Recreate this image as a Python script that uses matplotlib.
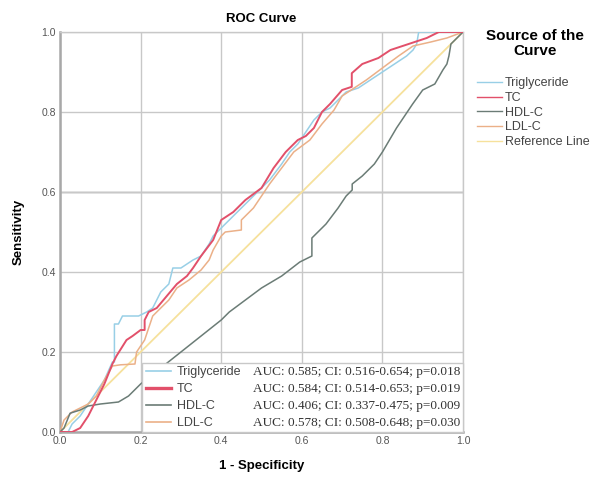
import matplotlib
matplotlib.use("Agg")
import matplotlib.pyplot as plt
from matplotlib.lines import Line2D

plt.rcParams['font.family'] = ['Liberation Sans', 'DejaVu Sans']

# ROC curves (1 - specificity, sensitivity)
tg_x = [0, 0.02, 0.03, 0.05, 0.07, 0.09, 0.11, 0.13, 0.135, 0.135, 0.145, 0.155, 0.195, 0.215, 0.23,
        0.25, 0.27, 0.28, 0.30, 0.33, 0.35, 0.37, 0.38, 0.40, 0.42, 0.44, 0.47, 0.49, 0.52, 0.55, 0.57,
        0.59, 0.61, 0.63, 0.65, 0.67, 0.69, 0.71, 0.74, 0.77, 0.80, 0.83, 0.86, 0.876, 0.885, 0.89, 1.0]
tg_y = [0, 0.0, 0.02, 0.04, 0.07, 0.10, 0.13, 0.175, 0.175, 0.27, 0.27, 0.29, 0.29, 0.30, 0.31,
        0.35, 0.37, 0.41, 0.41, 0.43, 0.44, 0.47, 0.49, 0.51, 0.53, 0.55, 0.58, 0.60, 0.63, 0.67, 0.70,
        0.72, 0.75, 0.78, 0.80, 0.81, 0.83, 0.85, 0.86, 0.88, 0.90, 0.92, 0.94, 0.955, 0.97, 1.0, 1.0]

tc_x = [0, 0.03, 0.05, 0.07, 0.09, 0.11, 0.13, 0.14, 0.165, 0.18, 0.20, 0.21, 0.21, 0.22, 0.24,
        0.265, 0.29, 0.315, 0.33, 0.35, 0.38, 0.40, 0.43, 0.46, 0.50, 0.53, 0.56, 0.59, 0.61, 0.63,
        0.65, 0.67, 0.70, 0.724, 0.724, 0.75, 0.79, 0.82, 0.85, 0.88, 0.91, 0.94, 1.0]
tc_y = [0, 0.0, 0.01, 0.04, 0.08, 0.12, 0.17, 0.19, 0.23, 0.24, 0.255, 0.255, 0.28, 0.30, 0.31,
        0.34, 0.37, 0.39, 0.41, 0.44, 0.48, 0.53, 0.55, 0.58, 0.61, 0.66, 0.70, 0.73, 0.74, 0.76,
        0.80, 0.82, 0.855, 0.863, 0.897, 0.92, 0.935, 0.955, 0.965, 0.975, 0.985, 1.0, 1.0]

hdl_x = [0, 0.01, 0.025, 0.05, 0.07, 0.10, 0.145, 0.17, 0.20, 0.25, 0.30, 0.35, 0.40, 0.42, 0.46,
         0.50, 0.55, 0.595, 0.625, 0.625, 0.66, 0.69, 0.71, 0.725, 0.725, 0.75, 0.78, 0.80, 0.835,
         0.875, 0.90, 0.93, 0.95, 0.96, 0.965, 0.97, 0.98, 1.0]
hdl_y = [0, 0.01, 0.047, 0.055, 0.065, 0.07, 0.075, 0.09, 0.12, 0.16, 0.20, 0.24, 0.28, 0.30, 0.33,
         0.36, 0.39, 0.425, 0.44, 0.485, 0.52, 0.56, 0.59, 0.605, 0.62, 0.64, 0.67, 0.70, 0.76,
         0.82, 0.855, 0.87, 0.905, 0.92, 0.94, 0.97, 0.98, 1.0]

ldl_x = [0, 0.01, 0.03, 0.05, 0.07, 0.09, 0.11, 0.13, 0.15, 0.186, 0.19, 0.21, 0.23, 0.25, 0.27,
         0.29, 0.32, 0.35, 0.37, 0.38, 0.40, 0.41, 0.45, 0.45, 0.48, 0.50, 0.52, 0.55, 0.58, 0.62,
         0.65, 0.68, 0.70, 0.73, 0.76, 0.80, 0.84, 0.876, 0.92, 0.96, 1.0]
ldl_y = [0, 0.03, 0.05, 0.06, 0.07, 0.09, 0.13, 0.165, 0.168, 0.17, 0.20, 0.23, 0.29, 0.31, 0.33,
         0.36, 0.38, 0.405, 0.43, 0.455, 0.49, 0.50, 0.505, 0.53, 0.56, 0.59, 0.62, 0.66, 0.70, 0.73,
         0.77, 0.805, 0.84, 0.86, 0.88, 0.91, 0.94, 0.965, 0.975, 0.985, 1.0]

names = ["Triglyceride", "TC", "HDL-C", "LDL-C"]
auc_text = ["AUC: 0.585; CI: 0.516-0.654; p=0.018",
            "AUC: 0.584; CI: 0.514-0.653; p=0.019",
            "AUC: 0.406; CI: 0.337-0.475; p=0.009",
            "AUC: 0.578; CI: 0.508-0.648; p=0.030"]
colors = ["#98cfe6", "#e2506a", "#6b7c76", "#ebb088"]
ref_color = "#f6e19c"

fig = plt.figure(figsize=(5.93, 4.79), dpi=100)
ax = fig.add_axes([0.1012, 0.0981, 0.6796, 0.8351])

ax.plot([0, 1], [0, 1], color=ref_color, lw=1.3, zorder=2)
curves = [(tg_x, tg_y), (tc_x, tc_y), (hdl_x, hdl_y), (ldl_x, ldl_y)]
for i in [0, 3, 2, 1]:
    ax.plot(curves[i][0], curves[i][1], color=colors[i], lw=1.4 if i == 1 else 1.1, zorder=3)

ax.set_xlim(0, 1)
ax.set_ylim(0, 1)
ticks = [0, 0.2, 0.4, 0.6, 0.8, 1.0]
ax.set_xticks(ticks)
ax.set_yticks(ticks)
ax.set_xticklabels(["0.0", "0.2", "0.4", "0.6", "0.8", "1.0"], fontsize=7.5, color="#555555")
ax.set_yticklabels(["0.0", "0.2", "0.4", "0.6", "0.8", "1.0"], fontsize=7.5, color="#555555")
ax.tick_params(length=0, pad=3)
ax.grid(True, color="#c8c8c8", lw=1.0, zorder=0)
ax.axhline(0.6, color="#8a8a8a", lw=1.0, zorder=1)
for s in ax.spines.values():
    s.set_color("#c8c8c8")
    s.set_linewidth(1.0)
for side in ["left", "bottom"]:
    ax.spines[side].set_color("#a8a8a8")
    ax.spines[side].set_linewidth(1.8)

ax.set_title("ROC Curve", fontsize=9.5, fontweight="bold", pad=7)
ax.set_xlabel("1 - Specificity", fontsize=9.5, fontweight="bold", labelpad=10)
ax.set_ylabel("Sensitivity", fontsize=9.5, fontweight="bold", labelpad=12)

# inner legend with AUC statistics
handles = [Line2D([], [], color=c, lw=2.4 if i == 1 else 1.2) for i, c in enumerate(colors)]
blank = [Line2D([], [], color="none") for _ in names]
leg = ax.legend(handles + blank, names + auc_text, ncol=2, loc="lower right",
                bbox_to_anchor=(1.0, 0.0), fontsize=9, frameon=True, fancybox=False,
                edgecolor="#c8c8c8", framealpha=1, handlelength=2.0, handletextpad=0.5,
                columnspacing=-1.6, labelspacing=0.4, borderpad=0.25, borderaxespad=0.0)
for t in leg.get_texts()[4:]:
    t.set_fontfamily("Liberation Serif")
    t.set_fontsize(9.5)
    t.set_color("#333333")
for t in leg.get_texts()[:4]:
    t.set_color("#444444")
leg.set_zorder(5)

# side legend
fig.text(0.902, 0.94, "Source of the\nCurve", ha="center", va="top", fontsize=11,
         fontweight="bold", multialignment="center", linespacing=1.15)
side_handles = [Line2D([], [], color=c, lw=1.0) for c in colors] + [Line2D([], [], color=ref_color, lw=1.0)]
fl = fig.legend(side_handles, names + ["Reference Line"], loc="upper left",
                bbox_to_anchor=(0.79, 0.857), fontsize=9, frameon=False,
                handlelength=2.0, handletextpad=0.2, labelspacing=0.22, borderpad=0.2)
for t in fl.get_texts():
    t.set_color("#444444")

fig.savefig("out.png", dpi=100)
